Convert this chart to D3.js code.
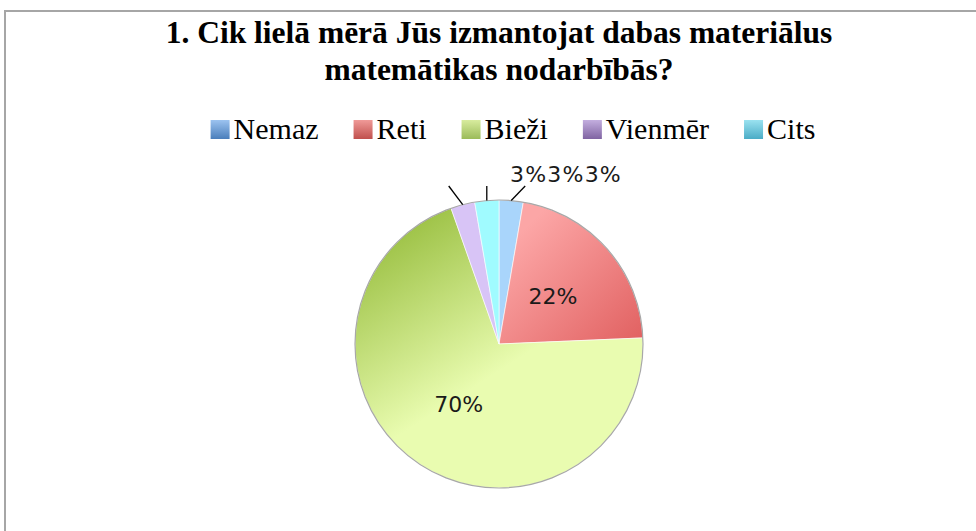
<!DOCTYPE html>
<html>
<head>
<meta charset="utf-8">
<script src="https://cdn.jsdelivr.net/npm/d3@7"></script>
<style>
html,body{margin:0;padding:0;background:#fff;}
svg{display:block;}
</style>
</head>
<body>
<svg id="chart" width="976" height="531"></svg>
<script>
const titleLines = ["1. Cik lielā mērā Jūs izmantojat dabas materiālus", "matemātikas nodarbībās?"];
const categories = ["Nemaz", "Reti", "Bieži", "Vienmēr", "Cits"];
const counts = [1, 8, 26, 1, 1];
const sliceLight = ["#a9d5fb", "#fca6a6", "#e9fcb0", "#d8c4f6", "#a0fbff"];
const sliceDark  = ["#a9d5fb", "#e05e5e", "#a0c44a", "#d8c4f6", "#a0fbff"];
const legendTop  = ["#9cc3f0", "#f09a98", "#d8ec9e", "#c3aedf", "#9ae2f0"];
const legendBot  = ["#4a7ebb", "#c0504d", "#9bbb59", "#8064a2", "#4bacc6"];

const W = 976, H = 531;
const svg = d3.select("#chart");
const defs = svg.append("defs");

// frame
svg.append("rect").attr("x", 5).attr("y", 11).attr("width", W + 10).attr("height", H + 10)
  .attr("fill", "#fff").attr("stroke", "#a6a6a6").attr("stroke-width", 2);

// title
svg.append("g").selectAll("text").data(titleLines).join("text")
  .attr("x", 499).attr("y", (d, i) => 43 + i * 37)
  .attr("text-anchor", "middle")
  .attr("font-family", "'Liberation Serif','Times New Roman',serif")
  .attr("font-weight", "bold").attr("font-size", 31.5).attr("fill", "#000")
  .text(d => d);

// legend
const legendFont = 30;
const sw = 19;
const lg = svg.append("g");
categories.forEach((c, i) => {
  const g = defs.append("linearGradient").attr("id", "lg" + i).attr("x1", 0).attr("y1", 0).attr("x2", 0).attr("y2", 1);
  g.append("stop").attr("offset", 0).attr("stop-color", legendTop[i]);
  g.append("stop").attr("offset", 1).attr("stop-color", legendBot[i]);
});
const items = lg.selectAll("g").data(categories).join("g");
items.append("rect").attr("width", sw).attr("height", sw).attr("y", -sw)
  .attr("fill", (d, i) => `url(#lg${i})`);
items.append("text").attr("x", sw + 4).attr("y", 0)
  .attr("font-family", "'Liberation Serif','Times New Roman',serif")
  .attr("font-size", legendFont).attr("fill", "#000").text(d => d);
const widths = items.nodes().map(n => n.getBBox().width);
const gap = 35;
const totalW = d3.sum(widths) + gap * (widths.length - 1);
let x0 = 513 - totalW / 2;
items.attr("transform", (d, i) => {
  const t = `translate(${x0},${139})`;
  x0 += widths[i] + gap;
  return t;
});

// pie
const cx = 499, cy = 344, r = 144;
const pie = d3.pie().sort(null).value(d => d)(counts);
const arc = d3.arc().innerRadius(0).outerRadius(r);
const total = d3.sum(counts);
const pg = svg.append("g").attr("transform", `translate(${cx},${cy})`);

// slice gradients (userSpace, relative to centre)
const gradDirs = [
  [0, 0, 0, 0],
  [20, -110, 140, 10],
  [-110, -100, -20, 40],
  [0, 0, 0, 0],
  [0, 0, 0, 0]
];
const gradOrder = [false, false, true, false, false]; // true => dark first
pie.forEach((p, i) => {
  const g = defs.append("linearGradient").attr("id", "sg" + i)
    .attr("gradientUnits", "userSpaceOnUse")
    .attr("x1", gradDirs[i][0]).attr("y1", gradDirs[i][1])
    .attr("x2", gradDirs[i][2]).attr("y2", gradDirs[i][3]);
  const a = gradOrder[i] ? sliceDark[i] : sliceLight[i];
  const b = gradOrder[i] ? sliceLight[i] : sliceDark[i];
  g.append("stop").attr("offset", 0).attr("stop-color", a);
  g.append("stop").attr("offset", 1).attr("stop-color", b);
});

pg.selectAll("path.slice").data(pie).join("path").attr("class", "slice")
  .attr("d", arc)
  .attr("fill", (d, i) => `url(#sg${i})`)
  .attr("stroke", "#ffffff").attr("stroke-width", 0.6);
pg.append("circle").attr("r", r).attr("fill", "none").attr("stroke", "#a8a8a8").attr("stroke-width", 1.2);

const pct = d => Math.round(d.value / total * 100) + "%";
const labelFont = "'DejaVu Sans','Noto Sans',sans-serif";

// inside labels for big slices
const big = pie.filter(d => d.value / total > 0.1);
pg.selectAll("text.in").data(big).join("text").attr("class", "in")
  .attr("transform", d => {
    const a = (d.startAngle + d.endAngle) / 2;
    return `translate(${Math.sin(a) * r * 0.5},${-Math.cos(a) * r * 0.5})`;
  })
  .attr("text-anchor", "middle").attr("dy", "0.36em")
  .attr("font-family", labelFont).attr("font-size", 22).attr("fill", "#1a1a1a")
  .text(pct);

// small slices: leader lines + stacked outside label
const small = pie.filter(d => d.value / total <= 0.1);
const leaderDx = [14, -14, 0];
const leadY = -r - 14;
pg.selectAll("line.lead").data(small).join("line").attr("class", "lead")
  .attr("x1", d => Math.sin((d.startAngle + d.endAngle) / 2) * r)
  .attr("y1", d => -Math.cos((d.startAngle + d.endAngle) / 2) * r)
  .attr("x2", (d, i) => Math.sin((d.startAngle + d.endAngle) / 2) * r + leaderDx[i])
  .attr("y2", leadY)
  .attr("stroke", "#000").attr("stroke-width", 1.3);
const st = pg.append("text").attr("x", 11).attr("y", leadY - 4)
  .attr("font-family", labelFont).attr("font-size", 22).attr("letter-spacing", 1.2).attr("fill", "#1a1a1a");
st.selectAll("tspan").data(small).join("tspan").text(pct);
</script>
</body>
</html>
